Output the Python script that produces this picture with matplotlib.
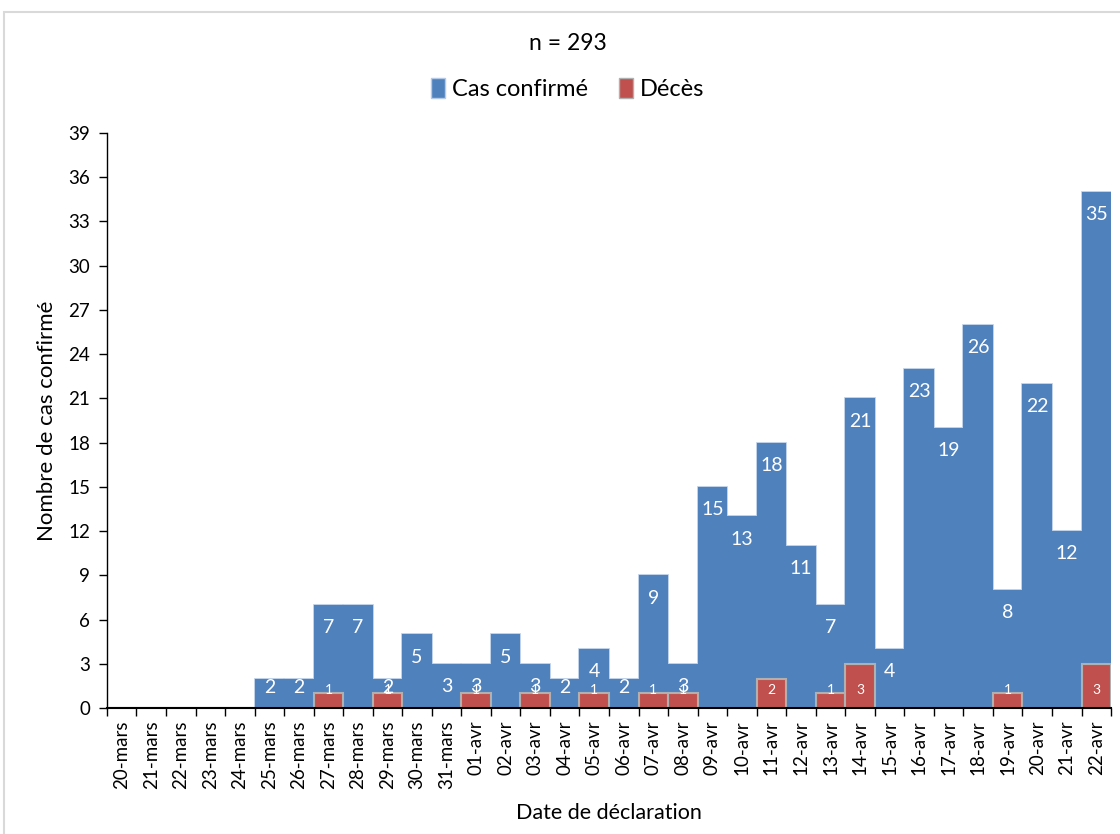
import matplotlib

matplotlib.use("Agg")
import matplotlib.pyplot as plt
import numpy as np
from matplotlib.patches import Patch, Rectangle

plt.rcParams["font.family"] = ["Lato", "DejaVu Sans"]

dates = ["20-mars", "21-mars", "22-mars", "23-mars", "24-mars", "25-mars", "26-mars",
         "27-mars", "28-mars", "29-mars", "30-mars", "31-mars", "01-avr", "02-avr",
         "03-avr", "04-avr", "05-avr", "06-avr", "07-avr", "08-avr", "09-avr", "10-avr",
         "11-avr", "12-avr", "13-avr", "14-avr", "15-avr", "16-avr", "17-avr", "18-avr",
         "19-avr", "20-avr", "21-avr", "22-avr"]
confirmes = [0, 0, 0, 0, 0, 2, 2, 7, 7, 2, 5, 3, 3, 5, 3, 2, 4, 2, 9, 3,
             15, 13, 18, 11, 7, 21, 4, 23, 19, 26, 8, 22, 12, 35]
deces = [0, 0, 0, 0, 0, 0, 0, 1, 0, 1, 0, 0, 1, 0, 1, 0, 1, 0, 1, 1,
         0, 0, 2, 0, 1, 3, 0, 0, 0, 0, 1, 0, 0, 3]

BLEU = "#4F81BD"
BORD_BLEU = "#B4CAE6"
ROUGE = "#C0504D"
BORD_ROUGE = "#B0B0B0"

fig = plt.figure(figsize=(11.2, 8.34), dpi=100)
ax = fig.add_axes([0.0955, 0.151, 0.8965, 0.6895])

x = np.arange(len(dates))
# contour clair d'abord, puis remplissage par-dessus (pas de traits entre barres voisines)
ax.bar(x, confirmes, width=1.0, color=BORD_BLEU, edgecolor=BORD_BLEU, linewidth=1.2, zorder=2)
ax.bar(x, confirmes, width=1.0, color=BLEU, linewidth=0, zorder=2.5)
ax.bar(x, deces, width=1.0, color=ROUGE, edgecolor=BORD_ROUGE, linewidth=1.5, zorder=3)

# étiquettes de données
for i, v in enumerate(confirmes):
    if v > 0:
        ax.text(i, max(v - 1.55, 1.42), str(v), ha="center", va="center",
                color="white", fontsize=14, zorder=4)
for i, v in enumerate(deces):
    if v > 0:
        ax.text(i, 1.22, str(v), ha="center", va="center", color="white",
                fontsize=10, zorder=5)

ax.set_xlim(-0.5, len(dates) - 0.5)
ax.set_ylim(0, 39)
ax.set_yticks(np.arange(0, 40, 3))
ax.set_xticks(x)
ax.set_xticklabels(dates, rotation=90)
ax.set_xticks(np.arange(-0.5, len(dates), 1.0), minor=True)
ax.tick_params(axis="x", which="major", length=0, pad=9, labelsize=13.5)
ax.tick_params(axis="x", which="minor", length=6, width=1, direction="out")
ax.tick_params(axis="y", length=6, width=1, labelsize=13.5, pad=6)

for s in ("top", "right"):
    ax.spines[s].set_visible(False)
ax.spines["left"].set_linewidth(1)
ax.spines["bottom"].set_linewidth(1.5)
ax.spines["bottom"].set_zorder(6)

ax.set_xlabel("Date de déclaration", fontsize=15.5, labelpad=10)
ax.set_ylabel("Nombre de cas confirmé", fontsize=16, labelpad=8)

fig.text(0.507, 0.948, "n = 293", ha="center", va="center", fontsize=16.5)
poignees = [Patch(facecolor=BLEU, edgecolor=BORD_BLEU, label="Cas confirmé"),
            Patch(facecolor=ROUGE, edgecolor=BORD_ROUGE, label="Décès")]
fig.legend(handles=poignees, loc="center", bbox_to_anchor=(0.507, 0.893), ncol=2,
           frameon=False, fontsize=17, handlelength=0.6, handleheight=0.9,
           handletextpad=0.3, columnspacing=1.3)

fig.patches.append(Rectangle((0.004, -0.1), 1.1, 1.086, transform=fig.transFigure,
                             fill=False, edgecolor="#D9D9D9", linewidth=1.5))

fig.savefig("out.png", dpi=100)
